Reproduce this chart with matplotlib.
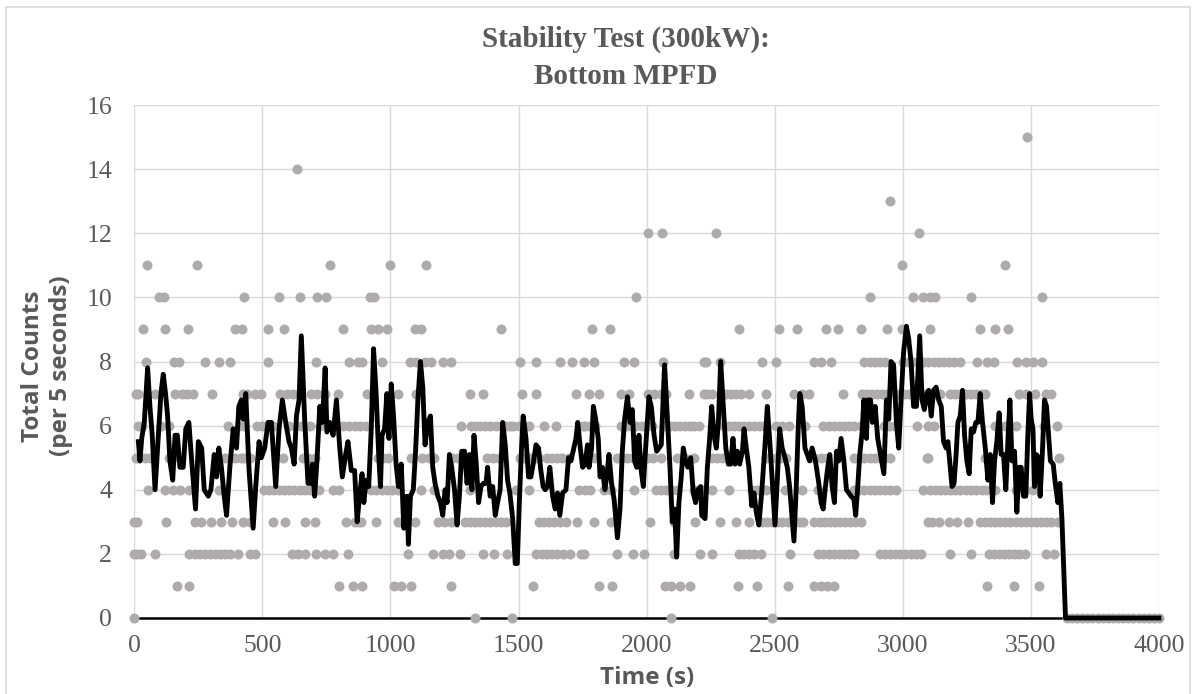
import matplotlib.pyplot as plt
from matplotlib.patches import Rectangle

# counts per 5 s window: time stamps (s) at which each count level shows a dot
dots_0 = [0, 1330, 1475, 2095, 2490, 3640, 3660, 3680, 3700, 3720, 3740, 3760, 3780, 3800,
          3820, 3840, 3860, 3880, 3900, 3920, 3940, 3960, 3980, 4000]
dots_1 = [165, 215, 800, 855, 890, 1015, 1040, 1080, 1235, 1555, 1815, 1865, 2070, 2095,
          2130, 2170, 2355, 2430, 2550, 2655, 2680, 2705, 2730, 3330, 3435, 3530]
dots_2 = [0, 10, 25, 80, 215, 235, 255, 275, 295, 315, 335, 355, 375, 405, 450, 470, 615,
          640, 665, 710, 745, 775, 835, 1070, 1165, 1205, 1230, 1270, 1360, 1405, 1455, 1570,
          1590, 1610, 1630, 1650, 1675, 1700, 1745, 1755, 1885, 1945, 1990, 2105, 2210, 2255,
          2360, 2380, 2400, 2420, 2445, 2560, 2670, 2690, 2710, 2730, 2750, 2770, 2790, 2810,
          2910, 2930, 2950, 2970, 2990, 3010, 3030, 3050, 3070, 3185, 3265, 3335, 3355, 3375,
          3395, 3415, 3435, 3455, 3475, 3560, 3590]
dots_3 = [0, 10, 125, 235, 260, 300, 340, 380, 425, 450, 540, 590, 665, 705, 825, 860, 875,
          885, 945, 1030, 1060, 1095, 1185, 1210, 1235, 1290, 1310, 1330, 1350, 1370, 1390,
          1410, 1430, 1450, 1580, 1600, 1620, 1640, 1660, 1685, 1730, 1795, 1860, 2015, 2105,
          2190, 2285, 2350, 2400, 2450, 2470, 2490, 2510, 2530, 2550, 2570, 2595, 2610, 2655,
          2675, 2695, 2715, 2735, 2755, 2775, 2795, 2815, 2835, 3100, 3115, 3140, 3180, 3210,
          3255, 3300, 3320, 3340, 3360, 3380, 3400, 3420, 3440, 3460, 3480, 3500, 3520, 3540,
          3560, 3580, 3605]
dots_4 = [55, 120, 150, 180, 215, 330, 505, 525, 545, 565, 585, 605, 625, 645, 665, 685, 705,
          720, 775, 800, 925, 945, 965, 985, 1005, 1030, 1120, 1170, 1310, 1490, 1540, 1735,
          1760, 1780, 1835, 1860, 1950, 2035, 2055, 2075, 2095, 2120, 2185, 2205, 2225, 2255,
          2320, 2410, 2430, 2450, 2465, 2540, 2605, 2670, 2810, 2830, 2850, 2870, 2890, 2910,
          2930, 2950, 2975, 3080, 3105, 3125, 3145, 3165, 3185, 3205, 3225, 3245, 3265, 3285,
          3310, 3325, 3360, 3440, 3475, 3510]
dots_5 = [5, 20, 40, 60, 135, 150, 355, 375, 395, 415, 430, 450, 580, 660, 680, 705, 950, 970,
          990, 1080, 1125, 1150, 1170, 1240, 1265, 1290, 1375, 1400, 1425, 1505, 1525, 1545,
          1565, 1580, 1610, 1630, 1650, 1670, 1695, 1755, 1775, 1795, 1885, 1905, 1925, 1945,
          1965, 1985, 2005, 2025, 2055, 2120, 2150, 2185, 2255, 2275, 2295, 2315, 2335, 2465,
          2485, 2505, 2525, 2545, 2655, 2680, 2705, 2810, 2830, 2850, 2870, 2890, 2910, 2930,
          2950, 3095, 3100, 3320, 3610]
dots_6 = [15, 30, 105, 135, 365, 410, 430, 480, 500, 520, 540, 605, 650, 685, 725, 815, 840,
          860, 880, 905, 1275, 1315, 1330, 1350, 1370, 1390, 1410, 1430, 1450, 1465, 1480,
          1500, 1520, 1540, 1600, 1645, 1750, 1760, 1780, 1800, 1900, 1920, 1940, 1960, 1980,
          2000, 2020, 2070, 2090, 2110, 2130, 2150, 2170, 2185, 2205, 2300, 2320, 2340, 2360,
          2380, 2400, 2420, 2440, 2460, 2505, 2530, 2555, 2620, 2690, 2710, 2730, 2750, 2770,
          2790, 2810, 2835, 2925, 2945, 2970, 3055, 3100, 3120, 3360, 3400, 3440, 3550, 3600]
dots_7 = [5, 15, 80, 160, 185, 205, 230, 305, 425, 440, 470, 495, 570, 595, 620, 690, 715, 745,
          795, 910, 1030, 1100, 1310, 1360, 1515, 1570, 1725, 1775, 1815, 1900, 1930, 2005,
          2030, 2055, 2075, 2165, 2225, 2235, 2255, 2310, 2330, 2350, 2370, 2400, 2465, 2575,
          2605, 2635, 2765, 2840, 2860, 2880, 2900, 2920, 2940, 2975, 3005, 3025, 3045, 3065,
          3085, 3105, 3125, 3145, 3185, 3205, 3225, 3245, 3265, 3285, 3305, 3320, 3455, 3480,
          3515, 3560, 3580]
dots_8 = [45, 155, 175, 275, 330, 375, 520, 710, 840, 875, 890, 965, 1075, 1100, 1135, 1160,
          1205, 1235, 1505, 1570, 1660, 1710, 1755, 1795, 1910, 1950, 2065, 2225, 2230, 2285,
          2450, 2505, 2655, 2680, 2720, 2850, 2870, 2890, 2910, 2930, 3000, 3020, 3040, 3060,
          3080, 3100, 3120, 3140, 3160, 3180, 3200, 3225, 3290, 3330, 3355, 3445, 3480, 3510,
          3545]
dots_9 = [35, 120, 210, 395, 420, 520, 585, 815, 925, 950, 985, 1095, 1120, 1430, 1785, 1855,
          2360, 2515, 2585, 2700, 2745, 2835, 2940, 2995, 3105, 3300, 3360, 3410]
dots_10 = [95, 115, 430, 565, 645, 715, 750, 920, 935, 1960, 2870, 3040, 3080, 3105, 3125,
           3265, 3545]
dots_11 = [50, 245, 765, 1000, 1140, 2995, 3400]
dots_12 = [2005, 2060, 2270, 3065]
dots_13 = [2950]
dots_14 = [635]
dots_15 = [3485]

# moving average trace
line_t = [16, 22, 29, 39, 52, 61, 70, 81, 94, 104, 113, 122, 130, 139, 150, 159, 168, 178,
          191, 201, 213, 224, 239, 250, 263, 273, 289, 299, 312, 321, 330, 340, 351, 360, 373,
          386, 399, 408, 418, 425, 435, 448, 464, 474, 487, 496, 509, 522, 535, 552, 565, 578,
          591, 604, 613, 624, 633, 643, 652, 665, 678, 687, 695, 704, 713, 724, 734, 745, 752,
          763, 776, 789, 802, 812, 825, 834, 847, 860, 870, 879, 889, 896, 905, 915, 925, 934,
          944, 954, 961, 967, 977, 986, 994, 1003, 1012, 1022, 1031, 1042, 1052, 1064, 1070,
          1078, 1089, 1098, 1107, 1117, 1126, 1135, 1146, 1156, 1165, 1174, 1185, 1195, 1204,
          1213, 1221, 1230, 1239, 1250, 1260, 1269, 1278, 1289, 1299, 1308, 1318, 1326, 1334,
          1344, 1353, 1363, 1373, 1379, 1389, 1399, 1409, 1418, 1428, 1438, 1448, 1457, 1466,
          1477, 1487, 1495, 1503, 1511, 1518, 1529, 1539, 1548, 1557, 1568, 1578, 1587, 1596,
          1604, 1613, 1622, 1633, 1643, 1652, 1661, 1672, 1685, 1695, 1704, 1713, 1724, 1731,
          1741, 1750, 1760, 1769, 1775, 1785, 1792, 1801, 1811, 1818, 1827, 1837, 1844, 1853,
          1863, 1873, 1886, 1896, 1905, 1914, 1925, 1935, 1944, 1953, 1961, 1970, 1977, 1987,
          1996, 2009, 2018, 2029, 2039, 2048, 2057, 2070, 2081, 2091, 2100, 2109, 2117, 2126,
          2135, 2143, 2152, 2161, 2172, 2182, 2191, 2200, 2211, 2215, 2228, 2237, 2246, 2254,
          2263, 2272, 2280, 2289, 2298, 2309, 2319, 2328, 2337, 2345, 2354, 2363, 2374, 2380,
          2389, 2399, 2410, 2419, 2428, 2438, 2449, 2462, 2471, 2480, 2490, 2501, 2510, 2519,
          2529, 2540, 2549, 2558, 2568, 2575, 2584, 2592, 2598, 2607, 2618, 2627, 2636, 2646,
          2659, 2672, 2681, 2689, 2698, 2707, 2715, 2724, 2733, 2741, 2750, 2759, 2770, 2780,
          2789, 2798, 2809, 2816, 2824, 2832, 2841, 2848, 2858, 2863, 2874, 2881, 2892, 2902,
          2913, 2926, 2936, 2945, 2954, 2964, 2975, 2984, 2993, 3003, 3014, 3023, 3032, 3042,
          3053, 3066, 3075, 3084, 3094, 3101, 3111, 3120, 3130, 3140, 3150, 3159, 3169, 3176,
          3185, 3192, 3200, 3208, 3215, 3224, 3233, 3241, 3250, 3259, 3267, 3276, 3285, 3293,
          3302, 3311, 3322, 3332, 3341, 3350, 3358, 3367, 3376, 3384, 3393, 3402, 3410, 3418,
          3426, 3436, 3445, 3454, 3462, 3471, 3480, 3488, 3495, 3501, 3508, 3514, 3521, 3530,
          3536, 3545, 3553, 3561, 3569, 3576, 3587, 3595, 3605, 3613, 3621, 3635, 4000]
line_v = [5.5, 4.9, 5.6, 6.1, 7.8, 6.6, 5.7, 4.0, 5.7, 7.0, 7.6, 7.0, 6.3, 4.9, 4.3, 5.7, 5.7,
          4.7, 4.7, 5.9, 6.1, 4.9, 3.4, 5.5, 5.3, 4.0, 3.8, 4.0, 5.1, 4.4, 5.3, 4.7, 3.8, 3.2,
          4.7, 5.9, 5.3, 6.6, 6.8, 6.2, 7.0, 4.6, 2.8, 4.1, 5.5, 5.0, 5.3, 6.1, 6.1, 4.1, 5.9,
          6.8, 6.1, 5.5, 5.3, 4.8, 6.3, 6.8, 8.8, 6.2, 4.2, 4.2, 4.8, 3.8, 4.9, 6.6, 6.1, 7.8,
          5.8, 6.1, 5.7, 6.8, 5.3, 4.4, 5.1, 5.5, 4.6, 4.6, 3.0, 3.8, 4.5, 3.6, 4.3, 4.1, 5.9,
          8.4, 7.0, 5.1, 4.1, 5.7, 5.9, 7.0, 5.6, 7.3, 6.3, 4.8, 4.1, 4.8, 2.8, 3.8, 2.3, 3.8,
          4.0, 5.2, 6.8, 8.0, 7.2, 5.4, 6.1, 6.3, 4.7, 4.2, 3.8, 3.6, 3.2, 4.0, 3.6, 5.1, 4.7,
          4.0, 2.9, 3.8, 5.2, 5.2, 4.2, 5.1, 4.0, 5.7, 4.9, 3.6, 4.1, 4.2, 4.2, 4.7, 3.8, 4.1,
          3.2, 3.6, 4.0, 6.1, 5.4, 4.3, 3.9, 3.1, 1.7, 1.7, 3.6, 5.2, 6.3, 5.6, 4.4, 4.4, 4.8,
          5.4, 5.3, 4.6, 4.1, 4.0, 4.1, 4.7, 3.8, 3.4, 3.9, 3.2, 3.9, 4.0, 5.0, 4.9, 5.2, 5.6,
          6.1, 5.3, 4.7, 4.8, 5.4, 4.7, 5.3, 6.6, 6.2, 5.6, 4.4, 4.7, 4.0, 4.4, 5.1, 4.2, 3.7,
          2.5, 3.4, 5.2, 6.2, 6.9, 6.1, 6.5, 4.9, 4.7, 5.7, 4.7, 4.1, 5.3, 6.9, 6.6, 5.7, 5.2,
          5.3, 5.4, 7.9, 6.2, 4.7, 3.0, 3.4, 1.9, 3.6, 4.4, 5.3, 4.9, 4.7, 5.0, 3.9, 3.6, 4.0,
          4.1, 3.2, 3.1, 4.7, 5.6, 6.6, 5.7, 5.3, 6.1, 8.0, 6.8, 5.3, 4.8, 4.8, 5.6, 4.8, 5.2,
          4.8, 5.2, 5.9, 5.3, 4.7, 3.5, 3.9, 3.3, 2.9, 3.9, 5.4, 6.6, 5.6, 4.3, 2.9, 4.3, 5.9,
          5.3, 5.0, 4.7, 4.1, 3.1, 2.4, 4.1, 6.0, 7.0, 6.6, 5.3, 5.1, 4.9, 5.3, 4.9, 4.2, 3.6,
          3.4, 4.1, 4.7, 5.1, 4.1, 3.6, 5.2, 4.9, 5.6, 4.9, 4.0, 3.9, 3.8, 3.7, 3.2, 4.1, 5.1,
          5.8, 6.8, 5.6, 6.8, 6.8, 6.1, 6.6, 5.6, 5.1, 4.5, 6.8, 6.2, 8.0, 7.9, 6.1, 5.3, 6.8,
          8.3, 9.1, 8.7, 8.0, 6.6, 6.6, 8.8, 6.8, 6.5, 7.0, 7.1, 6.3, 7.1, 7.2, 6.8, 6.6, 5.5,
          5.3, 5.5, 4.7, 4.1, 4.2, 5.1, 6.1, 6.3, 7.1, 5.7, 4.9, 4.5, 5.9, 5.8, 6.1, 6.1, 7.0,
          6.1, 5.3, 4.3, 5.1, 3.6, 4.9, 5.5, 6.4, 5.1, 5.1, 4.0, 5.5, 6.8, 4.9, 5.2, 3.3, 4.7,
          4.7, 3.8, 3.8, 5.7, 7.0, 6.2, 5.9, 4.1, 5.1, 5.0, 3.8, 5.2, 6.8, 6.6, 5.7, 4.9, 4.8,
          4.2, 3.6, 4.2, 3.1, 0.0, 0.0]

levels = [dots_0, dots_1, dots_2, dots_3, dots_4, dots_5, dots_6, dots_7, dots_8,
          dots_9, dots_10, dots_11, dots_12, dots_13, dots_14, dots_15]
dot_t = []
dot_v = []
for count, times in enumerate(levels):
    dot_t += times
    dot_v += [count] * len(times)

TEXT = "#595959"
GRID = "#d9d9d9"
W, H = 1196, 694

fig = plt.figure(figsize=(W / 100, H / 100), dpi=100)
ax = fig.add_axes([134.3 / W, 76 / H, 1024.7 / W, 513 / H])

ax.plot(dot_t, dot_v, "o", color="#afabab", markersize=7.2, markeredgewidth=0,
        clip_on=False, zorder=3)
ax.plot(line_t, line_v, color="black", linewidth=3.5, solid_joinstyle="round",
        clip_on=False, zorder=4)

ax.set_xlim(0, 4000)
ax.set_ylim(0, 16)
ax.set_xticks(range(0, 4001, 500))
ax.set_yticks(range(0, 17, 2))
ax.grid(True, color=GRID, linewidth=1)
ax.set_axisbelow(True)
for side in ["left", "right", "top"]:
    ax.spines[side].set_visible(False)
ax.spines["bottom"].set_color("black")
ax.spines["bottom"].set_linewidth(1.8)
ax.spines["bottom"].set_zorder(2)
ax.tick_params(length=0, labelsize=18.5, labelcolor=TEXT)
ax.tick_params(axis="y", pad=16)
ax.tick_params(axis="x", pad=12)
for lab in ax.get_xticklabels() + ax.get_yticklabels():
    lab.set_fontfamily("Liberation Serif")

fig.text(647 / W, 1 - 678 / H, "Time (s)", ha="center", va="center", fontsize=17.5,
         fontweight="bold", color=TEXT, family="Open Sans")
fig.text(47 / W, 1 - 366 / H, "Total Counts\n(per 5 seconds)", rotation=90,
         ha="center", va="center", multialignment="center", fontsize=17.5,
         fontweight="bold", color=TEXT, family="Open Sans", linespacing=1.2)
fig.text(626 / W, 1 - 58 / H, "Stability Test (300kW):\nBottom MPFD", ha="center",
         va="center", multialignment="center", fontsize=21, fontweight="bold",
         color=TEXT, family="Liberation Serif", linespacing=1.45)

fig.patches.append(Rectangle((6 / W, -0.02), 1184 / W, 1.02 - 7 / H,
                             transform=fig.transFigure, fill=False,
                             edgecolor=GRID, linewidth=1.2))

fig.savefig("out.png", dpi=100)
